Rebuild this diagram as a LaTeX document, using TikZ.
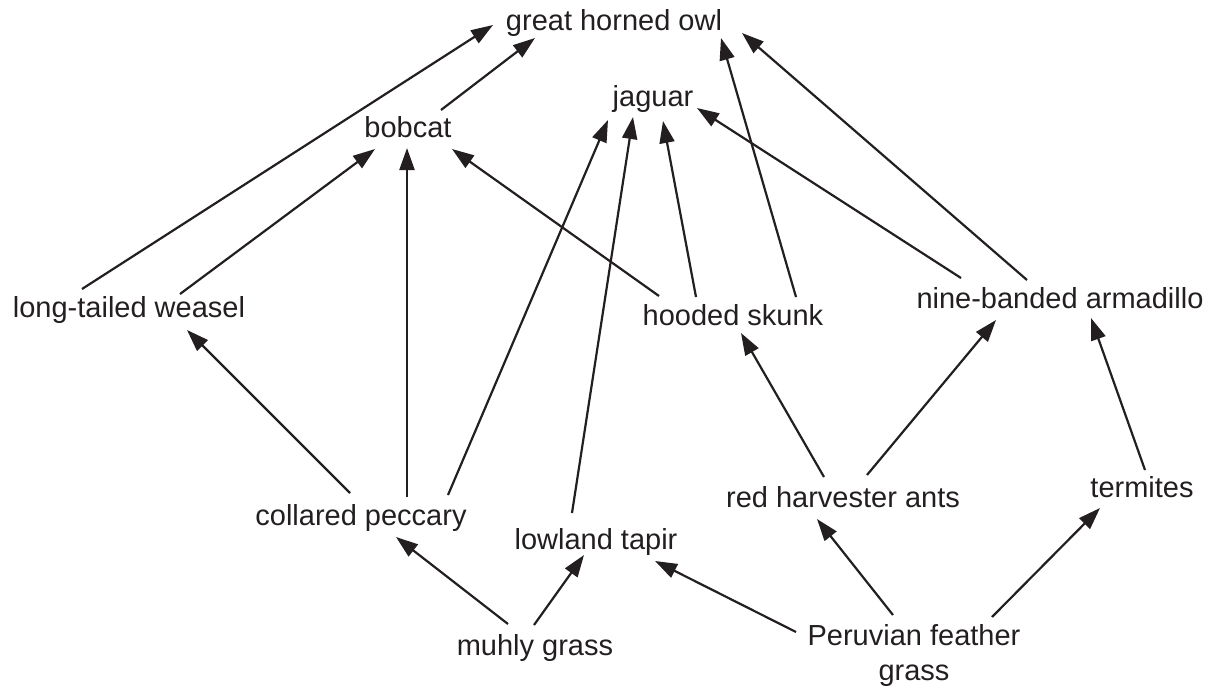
\documentclass[tikz,border=0pt]{standalone}
\usepackage{fontspec}
\setmainfont{Liberation Sans}
\usetikzlibrary{arrows.meta,calc}
\definecolor{ink}{HTML}{231F20}
\begin{document}
\begin{tikzpicture}[x=0.5pt,y=-0.5pt,
  lbl/.style={inner sep=0pt, font=\fontsize{14.5}{17.5}\selectfont, text=ink, anchor=base},
  arr/.style={draw=ink, line width=1.1pt, -{Triangle[length=11pt,width=7.5pt]}}]
\useasboundingbox (0,0) rectangle (1221,691);
% nodes
\node[lbl] (owl) at (614,30) {great horned owl};
\node[lbl] (jaguar) at (653,106) {jaguar};
\node[lbl] (bobcat) at (408,137) {bobcat};
\node[lbl] (weasel) at (129,317) {long-tailed weasel};
\node[lbl] (skunk) at (733,325) {hooded skunk};
\node[lbl] (armadillo) at (1060,308) {nine-banded armadillo};
\node[lbl] (peccary) at (361,525) {collared peccary};
\node[lbl] (tapir) at (596,549) {lowland tapir};
\node[lbl] (ants) at (843,507) {red harvester ants};
\node[lbl] (termites) at (1142,497) {termites};
\node[lbl] (muhly) at (535,655) {muhly grass};
\node[lbl, anchor=center, align=center] (peru) at (914,655) {Peruvian feather\\grass};
% connectors
\draw[arr] ($(weasel.base)+(-47,-28)$) -- ($(owl.base)+(-121,-5)$);
\draw[arr] ($(bobcat.base)+(33,-27)$) -- ($(owl.base)+(-79,8)$);
\draw[arr] ($(weasel.base)+(51,-23)$) -- ($(bobcat.base)+(-33,12)$);
\draw[arr] ($(peccary.base)+(46,-28)$) -- ($(bobcat.base)+(-1,11)$);
\draw[arr] ($(skunk.base)+(-74,-29)$) -- ($(bobcat.base)+(44,12)$);
\draw[arr] ($(peccary.base)+(-11,-32)$) -- ($(weasel.base)+(58,13)$);
\draw[arr] ($(peccary.base)+(87,-30)$) -- ($(jaguar.base)+(-45,14)$);
\draw[arr] ($(tapir.base)+(-24,-36)$) -- ($(jaguar.base)+(-20,11)$);
\draw[arr] ($(skunk.base)+(-37,-28)$) -- ($(jaguar.base)+(10,15)$);
\draw[arr] ($(skunk.base)+(63,-28)$) -- ($(owl.base)+(107,8)$);
\draw[arr] ($(armadillo.base)+(-99,-30)$) -- ($(jaguar.base)+(44,2)$);
\draw[arr] ($(armadillo.base)+(-33,-28)$) -- ($(owl.base)+(128,3)$);
\draw[arr] ($(ants.base)+(-19,-30)$) -- ($(skunk.base)+(8,8)$);
\draw[arr] ($(ants.base)+(24,-32)$) -- ($(armadillo.base)+(-64,12)$);
\draw[arr] ($(termites.base)+(3,-27)$) -- ($(armadillo.base)+(31,10)$);
\draw[arr] ($(muhly.base)+(-27,-31)$) -- ($(peccary.base)+(35,12)$);
\draw[arr] ($(muhly.base)+(-1,-30)$) -- ($(tapir.base)+(-12,6)$);
\draw[arr] ($(peru.center)+(-118,-23)$) -- ($(tapir.base)+(59,12)$);
\draw[arr] ($(peru.center)+(-21,-40)$) -- ($(ants.base)+(-26,12)$);
\draw[arr] ($(peru.center)+(78,-38)$) -- ($(termites.base)+(-42,11)$);
\end{tikzpicture}
\end{document}
